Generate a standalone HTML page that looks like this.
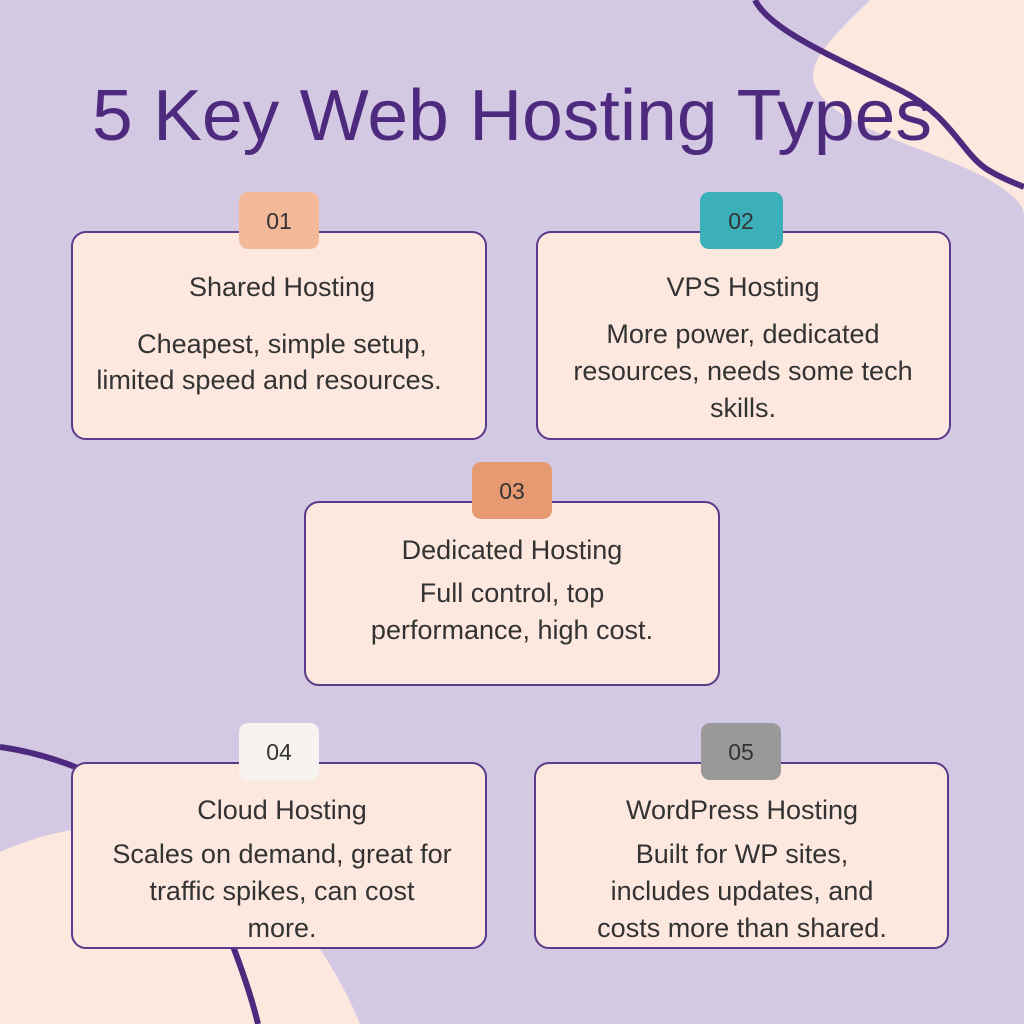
<!DOCTYPE html>
<html><head><style>html,body{margin:0;padding:0;background:#d4c9e3}svg{display:block}</style></head>
<body>
<svg width="1024" height="1024" viewBox="0 0 1024 1024" xmlns="http://www.w3.org/2000/svg">
<rect width="1024" height="1024" fill="#d4c9e3"/>
<path d="M870,0 C840,30 805,60 815,85 C830,125 920,145 980,175 C1010,190 1024,205 1024,215 L1024,0 Z" fill="#fce8df"/>
<path d="M755,0 C770,30 830,55 900,90 C950,115 960,150 985,168 C1000,178 1015,183 1024,187" fill="none" stroke="#4e2a7e" stroke-width="6"/>
<path d="M0,852 C50,830 90,825 150,825 C250,830 330,950 360,1024 L0,1024 Z" fill="#fce8df"/>
<path d="M0,747 C90,760 180,810 215,900 C235,950 250,990 258,1024" fill="none" stroke="#4e2a7e" stroke-width="6"/>
<text x="512" y="140" text-anchor="middle" font-family="Liberation Sans, sans-serif" font-size="72" fill="#4e2a7e" textLength="840" lengthAdjust="spacingAndGlyphs">5 Key Web Hosting Types</text>
<g stroke="#5a3a8a" stroke-width="2" fill="#fce8df">
<rect x="72" y="232" width="414" height="207" rx="14"/>
<rect x="537" y="232" width="413" height="207" rx="14"/>
<rect x="305" y="502" width="414" height="183" rx="14"/>
<rect x="72" y="763" width="414" height="185" rx="14"/>
<rect x="535" y="763" width="413" height="185" rx="14"/>
</g>
<rect x="239" y="192" width="80" height="57" rx="9" fill="#f4b998"/>
<rect x="700" y="192" width="83" height="57" rx="9" fill="#3bb0b8"/>
<rect x="472" y="462" width="80" height="57" rx="9" fill="#e79a72"/>
<rect x="239" y="723" width="80" height="57" rx="9" fill="#f7f3f0"/>
<rect x="701" y="723" width="80" height="57" rx="9" fill="#999999"/>
<g font-family="Liberation Sans, sans-serif" font-size="23" fill="#333" text-anchor="middle">
<text x="279" y="229">01</text><text x="741" y="229">02</text><text x="512" y="499">03</text><text x="279" y="760">04</text><text x="741" y="760">05</text>
</g>
<g font-family="Liberation Sans, sans-serif" font-size="27" fill="#333" text-anchor="middle">
<text x="282" y="296">Shared Hosting</text>
<text x="282" y="353">Cheapest, simple setup,</text>
<text x="269" y="389">limited speed and resources.</text>
<text x="743" y="296">VPS Hosting</text>
<text x="743" y="343">More power, dedicated</text>
<text x="743" y="380">resources, needs some tech</text>
<text x="743" y="417">skills.</text>
<text x="512" y="559">Dedicated Hosting</text>
<text x="512" y="602">Full control, top</text>
<text x="512" y="639">performance, high cost.</text>
<text x="282" y="819">Cloud Hosting</text>
<text x="282" y="863">Scales on demand, great for</text>
<text x="282" y="900">traffic spikes, can cost</text>
<text x="282" y="937">more.</text>
<text x="742" y="819">WordPress Hosting</text>
<text x="742" y="863">Built for WP sites,</text>
<text x="742" y="900">includes updates, and</text>
<text x="742" y="937">costs more than shared.</text>
</g>
</svg>
</body></html>
